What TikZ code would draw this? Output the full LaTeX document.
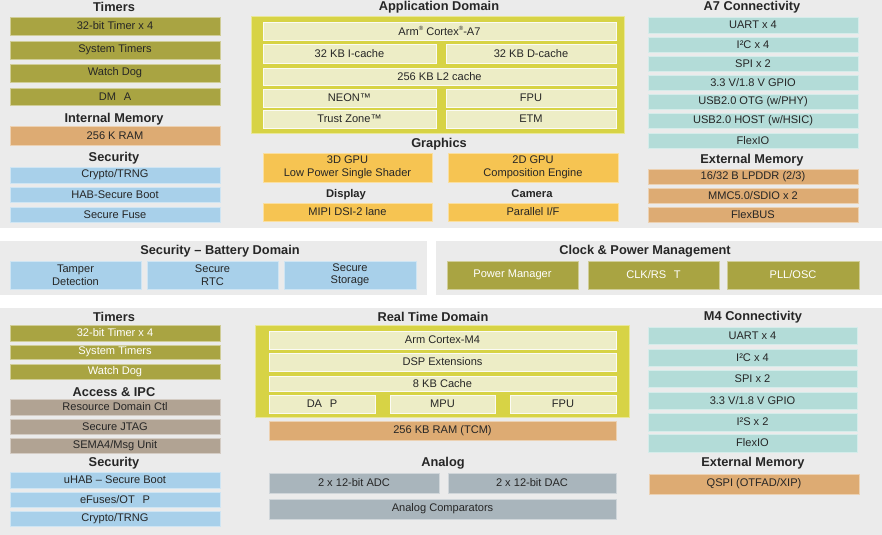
\documentclass[tikz,border=0pt]{standalone}
\usepackage{fontspec}
\setmainfont{Liberation Sans}
\usepackage{xcolor}

\definecolor{panelgray}{RGB}{235,235,235}
\definecolor{timerolive}{RGB}{169,164,66}
\definecolor{ramorange}{RGB}{221,171,115}
\definecolor{secblue}{RGB}{168,208,234}
\definecolor{coreyellow}{RGB}{215,211,69}
\definecolor{corecream}{RGB}{237,237,198}
\definecolor{gfxorange}{RGB}{246,196,82}
\definecolor{connteal}{RGB}{179,220,216}
\definecolor{ipctaupe}{RGB}{177,163,147}
\definecolor{anagray}{RGB}{169,181,188}
\definecolor{txtdark}{RGB}{38,38,38}

\tikzset{every picture/.style={line width=0.75pt}}
\tikzset{
hd/.style={font=\fontsize{9.6}{11}\selectfont\bfseries, text=txtdark, inner sep=0.75pt},
lbl/.style={font=\fontsize{8.3}{9.4}\selectfont, text=txtdark, inner sep=0.75pt, align=center},
wlbl/.style={lbl, text=white},
panel/.style={fill=panelgray, draw=none},
olivebox/.style={fill=timerolive, draw=timerolive!55!white, line width=0.6},
rambox/.style={fill=ramorange, draw=ramorange!55!white, line width=0.6},
secbox/.style={fill=secblue, draw=secblue!55!white, line width=0.6},
coreframe/.style={fill=coreyellow, draw=coreyellow!55!white, line width=0.6},
corebox/.style={fill=corecream, draw=white!80!corecream, line width=0.6},
gfxbox/.style={fill=gfxorange, draw=gfxorange!55!white, line width=0.6},
connbox/.style={fill=connteal, draw=connteal!55!white, line width=0.6},
ipcbox/.style={fill=ipctaupe, draw=ipctaupe!55!white, line width=0.6},
anabox/.style={fill=anagray, draw=anagray!55!white, line width=0.6}}

\newcommand{\rmark}{\raisebox{0.45em}{\fontsize{4.5}{5}\selectfont ®}}

\begin{document}
\begin{tikzpicture}[x=0.75pt,y=0.75pt,yscale=-1,xscale=1]
\useasboundingbox (0,0) rectangle (882,535);

%Panels
\draw[panel] (0,0) rectangle (882,228);
\draw[panel] (0,241) rectangle (427,295);
\draw[panel] (436,241) rectangle (882,295);
\draw[panel] (0,308) rectangle (882,535);

%Timers (A7 side)
\node[hd] (hTmrA) at (114,7) {Timers};
\draw[olivebox] (10,17) rectangle (220,35) node[lbl,midway] (tmrA1) {32-bit Timer x 4};
\draw[olivebox] (10,41) rectangle (220,59) node[lbl,midway] (tmrA2) {System Timers};
\draw[olivebox] (10,64) rectangle (220,82) node[lbl,midway] (tmrA3) {Watch Dog};
\draw[olivebox] (10,88) rectangle (220,105) node[lbl,midway] (tmrA4) {DM\hspace{0.7em}A};
%Internal memory
\node[hd] (hIntMem) at (114,119) {Internal Memory};
\draw[rambox] (10,126) rectangle (220,145) node[lbl,midway] (ramA) {256 K RAM};
%Security (A7 side)
\node[hd] (hSecA) at (114,158) {Security};
\draw[secbox] (10,167) rectangle (220,183) node[lbl,midway] (secA1) {Crypto/TRNG};
\draw[secbox] (10,187) rectangle (220,202) node[lbl,midway] (secA2) {HAB-Secure Boot};
\draw[secbox] (10,207) rectangle (220,222) node[lbl,midway] (secA3) {Secure Fuse};

%Application domain
\node[hd] (hApp) at (439,7) {Application Domain};
\draw[coreframe] (251,16) rectangle (624,133);
\draw[corebox] (263,22) rectangle (616,40) node[lbl,midway] (coreA7) {Arm\rmark\ Cortex\rmark-A7};
\draw[corebox] (263,44) rectangle (436,63) node[lbl,midway] (icache) {32 KB I-cache};
\draw[corebox] (446,44) rectangle (616,63) node[lbl,midway] (dcache) {32 KB D-cache};
\draw[corebox] (263,68) rectangle (616,85) node[lbl,midway] (l2cache) {256 KB L2 cache};
\draw[corebox] (263,89) rectangle (436,107) node[lbl,midway] (neon) {NEON™};
\draw[corebox] (446,89) rectangle (616,107) node[lbl,midway] (fpuA) {FPU};
\draw[corebox] (263,110) rectangle (436,128) node[lbl,midway] (tzone) {Trust Zone™};
\draw[corebox] (446,110) rectangle (616,128) node[lbl,midway] (etm) {ETM};
%Graphics
\node[hd] (hGfx) at (439,144) {Graphics};
\draw[gfxbox] (263,153) rectangle (432,182) node[lbl,midway] (gpu3d) {3D GPU\\Low Power Single Shader};
\draw[gfxbox] (448,153) rectangle (618,182) node[lbl,midway] (gpu2d) {2D GPU\\Composition Engine};
\node[hd, font=\fontsize{8.4}{10}\selectfont\bfseries] (hDisp) at (346,195) {Display};
\node[hd, font=\fontsize{8.4}{10}\selectfont\bfseries] (hCam) at (532,194) {Camera};
\draw[gfxbox] (263,203) rectangle (432,221) node[lbl,midway] (mipi) {MIPI DSI-2 lane};
\draw[gfxbox] (448,203) rectangle (618,221) node[lbl,midway] (parif) {Parallel I/F};

%A7 connectivity
\node[hd] (hConnA) at (752,7) {A7 Connectivity};
\draw[connbox] (648,17) rectangle (858,33) node[lbl,midway] (uartA) {UART x 4};
\draw[connbox] (648,37) rectangle (858,52) node[lbl,midway] (iicA) {I²C x 4};
\draw[connbox] (648,56) rectangle (858,71) node[lbl,midway] (spiA) {SPI x 2};
\draw[connbox] (648,75) rectangle (858,90) node[lbl,midway] (gpioA) {3.3 V/1.8 V GPIO};
\draw[connbox] (648,94) rectangle (858,109) node[lbl,midway] (otg) {USB2.0 OTG (w/PHY)};
\draw[connbox] (648,113) rectangle (858,128) node[lbl,midway] (host) {USB2.0 HOST (w/HSIC)};
\draw[connbox] (648,133) rectangle (858,148) node[lbl,midway] (flexA) {FlexIO};
%External memory (A7 side)
\node[hd] (hExtA) at (752,160) {External Memory};
\draw[rambox] (648,169) rectangle (858,184) node[lbl,midway] (lpddr) {16/32 B LPDDR (2/3)};
\draw[rambox] (648,188) rectangle (858,203) node[lbl,midway] (mmc) {MMC5.0/SDIO x 2};
\draw[rambox] (648,207) rectangle (858,222) node[lbl,midway] (flexbus) {FlexBUS};

%Security - battery domain
\node[hd] (hBat) at (220,251) {Security – Battery Domain};
\draw[secbox] (10,261) rectangle (141,289) node[lbl,midway] (tamper) {Tamper\\Detection};
\draw[secbox] (147,261) rectangle (278,289) node[lbl,midway] (srtc) {Secure\\RTC};
\draw[secbox] (284,261) rectangle (416,289) node[lbl,midway] (sstor) {Secure\\Storage};
%Clock & power
\node[hd] (hClk) at (645,251) {Clock \& Power Management};
\draw[olivebox] (447,261) rectangle (578,289) node[wlbl,midway] (pwrmgr) {Power Manager};
\draw[olivebox] (588,261) rectangle (719,289) node[wlbl,midway] (clkrst) {CLK/RS\hspace{0.7em}T};
\draw[olivebox] (727,261) rectangle (859,289) node[wlbl,midway] (pll) {PLL/OSC};

%Timers (M4 side)
\node[hd] (hTmrM) at (114,317) {Timers};
\draw[olivebox] (10,325) rectangle (220,341) node[wlbl,midway] (tmrM1) {32-bit Timer x 4};
\draw[olivebox] (10,345) rectangle (220,359) node[wlbl,midway] (tmrM2) {System Timers};
\draw[olivebox] (10,364) rectangle (220,379) node[wlbl,midway] (tmrM3) {Watch Dog};
%Access & IPC
\node[hd] (hIpc) at (114,392) {Access \& IPC};
\draw[ipcbox] (10,399) rectangle (220,415) node[lbl,midway] (rdc) {Resource Domain Ctl};
\draw[ipcbox] (10,419) rectangle (220,434) node[lbl,midway] (jtag) {Secure JTAG};
\draw[ipcbox] (10,438) rectangle (220,453) node[lbl,midway] (sema) {SEMA4/Msg Unit};
%Security (M4 side)
\node[hd] (hSecM) at (114,463) {Security};
\draw[secbox] (10,472) rectangle (220,488) node[lbl,midway] (uhab) {uHAB – Secure Boot};
\draw[secbox] (10,492) rectangle (220,507) node[lbl,midway] (efuse) {eFuses/OT\hspace{0.7em}P};
\draw[secbox] (10,511) rectangle (220,526) node[lbl,midway] (secM3) {Crypto/TRNG};

%Real time domain
\node[hd] (hRt) at (433,317) {Real Time Domain};
\draw[coreframe] (255,325) rectangle (629,417);
\draw[corebox] (269,331) rectangle (616,349) node[lbl,midway] (coreM4) {Arm Cortex-M4};
\draw[corebox] (269,353) rectangle (616,371) node[lbl,midway] (dsp) {DSP Extensions};
\draw[corebox] (269,376) rectangle (616,391) node[lbl,midway] (cacheM) {8 KB Cache};
\draw[corebox] (269,395) rectangle (375,413) node[lbl,midway] (dap) {DA\hspace{0.7em}P};
\draw[corebox] (390,395) rectangle (495,413) node[lbl,midway] (mpu) {MPU};
\draw[corebox] (510,395) rectangle (616,413) node[lbl,midway] (fpuM) {FPU};
\draw[rambox] (269,421) rectangle (616,440) node[lbl,midway] (tcm) {256 KB RAM (TCM)};
%Analog
\node[hd] (hAna) at (443,463) {Analog};
\draw[anabox] (269,473) rectangle (439,493) node[lbl,midway] (adc) {2 x 12-bit ADC};
\draw[anabox] (448,473) rectangle (616,493) node[lbl,midway] (dac) {2 x 12-bit DAC};
\draw[anabox] (269,499) rectangle (616,519) node[lbl,midway] (acmp) {Analog Comparators};

%M4 connectivity
\node[hd] (hConnM) at (753,317) {M4 Connectivity};
\draw[connbox] (648,327) rectangle (857,344) node[lbl,midway] (uartM) {UART x 4};
\draw[connbox] (648,349) rectangle (857,366) node[lbl,midway] (iicM) {I²C x 4};
\draw[connbox] (648,370) rectangle (857,387) node[lbl,midway] (spiM) {SPI x 2};
\draw[connbox] (648,392) rectangle (857,409) node[lbl,midway] (gpioM) {3.3 V/1.8 V GPIO};
\draw[connbox] (648,413) rectangle (857,431) node[lbl,midway] (iis) {I²S x 2};
\draw[connbox] (648,434) rectangle (857,452) node[lbl,midway] (flexM) {FlexIO};
%External memory (M4 side)
\node[hd] (hExtM) at (753,463) {External Memory};
\draw[rambox] (649,474) rectangle (859,494) node[lbl,midway] (qspi) {QSPI (OTFAD/XIP)};

\end{tikzpicture}
\end{document}
